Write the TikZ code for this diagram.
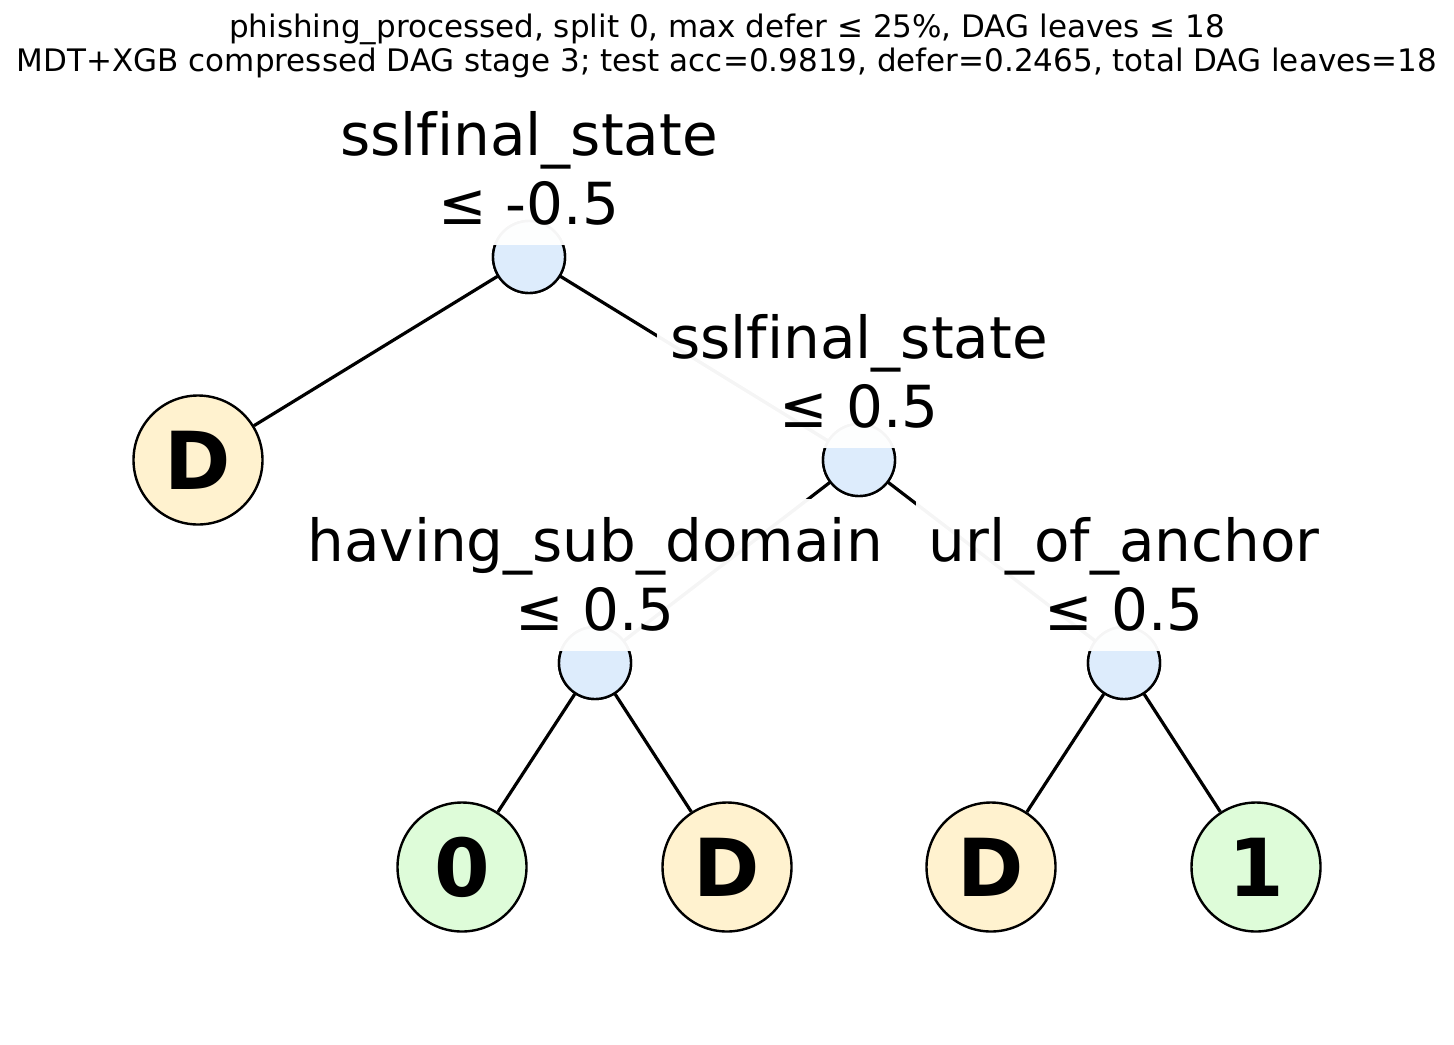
\documentclass[tikz,border=0pt]{standalone}
\usepackage{fontspec}
\setmainfont[Ligatures=NoCommon]{DejaVu Sans}
\definecolor{splitfill}{RGB}{221,236,252}
\definecolor{deferfill}{RGB}{255,242,207}
\definecolor{classfill}{RGB}{222,252,217}
\begin{document}
\begin{tikzpicture}[x=0.5pt,y=-0.5pt,
  splitnode/.style={circle,draw=black,line width=1.2pt,fill=splitfill,minimum size=36pt,inner sep=0pt},
  leafnode/.style={circle,draw=black,line width=1.2pt,minimum size=64.5pt,inner sep=0pt,font=\fontsize{40}{44}\selectfont\bfseries},
  defer/.style={leafnode,fill=deferfill},
  cls/.style={leafnode,fill=classfill},
  edge/.style={line width=1.6pt,draw=black},
  splitlabel/.style={align=center,fill=white,fill opacity=0.96,text opacity=1,inner xsep=6.5pt,inner ysep=9.5pt,anchor=south,font=\fontsize{29}{34.5}\selectfont},
  titletext/.style={align=center,font=\fontsize{15.5}{17}\selectfont}]
\useasboundingbox (0,0) rectangle (1454,1044);
\node[titletext] (title) at (727,46) {phishing\_processed, split 0, max defer ≤ 25\%, DAG leaves ≤ 18\\MDT+XGB compressed DAG stage 3; test acc=0.9819, defer=0.2465, total DAG leaves=18};
% nodes
\node[splitnode] (n0) at (529,257) {};
\node[splitnode] (n1) at (859,460) {};
\node[splitnode] (n2) at (595,663) {};
\node[splitnode] (n3) at (1124,663) {};
\node[defer] (l0) at (198,460) {D};
\node[cls] (l1) at (462,867) {0};
\node[defer] (l2) at (727,867) {D};
\node[defer] (l3) at (991,867) {D};
\node[cls] (l4) at (1256,867) {1};
% edges
\draw[edge] (n0) -- (l0);
\draw[edge] (n0.center) -- (n1.center);
\draw[edge] (n1.center) -- (n2.center);
\draw[edge] (n1.center) -- (n3.center);
\draw[edge] (n2) -- (l1);
\draw[edge] (n2) -- (l2);
\draw[edge] (n3) -- (l3);
\draw[edge] (n3) -- (l4);
% redraw split circles over edges
\foreach \n in {n0,n1,n2,n3}{\node[splitnode] at (\n) {};}
% labels
\node[splitlabel] (t0) at ([yshift=6pt]n0.center) {sslfinal\_state\\≤ -0.5};
\node[splitlabel] (t1) at ([yshift=6pt]n1.center) {sslfinal\_state\\≤ 0.5};
\node[splitlabel] (t2) at ([yshift=6pt]n2.center) {having\_sub\_domain\\≤ 0.5};
\node[splitlabel] (t3) at ([yshift=6pt]n3.center) {url\_of\_anchor\\≤ 0.5};
\end{tikzpicture}
\end{document}
